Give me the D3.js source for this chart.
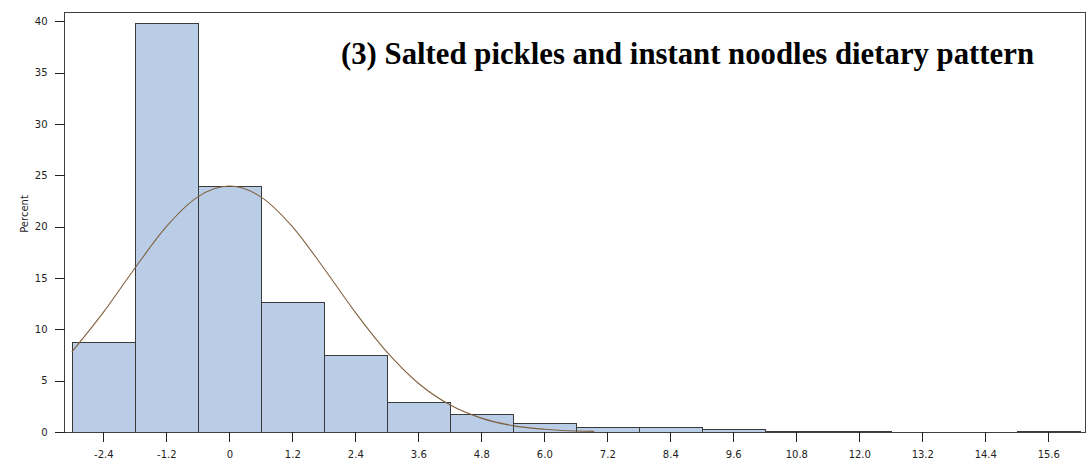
<!DOCTYPE html>
<html>
<head>
<meta charset="utf-8">
<script src="https://cdn.jsdelivr.net/npm/d3@7"></script>
<style>
  body { margin: 0; background: #fff; }
  svg { display: block; }
  .bar { fill: #b9cde6; stroke: #3a3a3a; stroke-width: 1; shape-rendering: crispEdges; }
  .curve { fill: none; stroke: #80613f; stroke-width: 1.1; }
  .frame { fill: none; stroke: #404040; stroke-width: 1; shape-rendering: crispEdges; }
  .axis text { font-family: "DejaVu Sans", sans-serif; font-size: 10px; fill: #222; }
  .axis line { stroke: #222; shape-rendering: crispEdges; }
  .axis path { display: none; }
</style>
</head>
<body>
<svg width="1088" height="465"></svg>
<script>
// histogram bins (midpoints) and percent of observations
const binMids = [-2.4, -1.2, 0, 1.2, 2.4, 3.6, 4.8, 6.0, 7.2, 8.4, 9.6, 10.8, 12.0, 13.2, 14.4, 15.6];
const percents = [8.8, 39.8, 24.0, 12.7, 7.45, 2.95, 1.8, 0.85, 0.5, 0.5, 0.32, 0.09, 0.09, 0, 0, 0.09];
const binWidth = 1.2;

// fitted normal curve
const curveX = [-3.0, -2.4, -1.8, -1.2, -0.6, 0, 0.6, 1.2, 1.8, 2.4, 3.0, 3.6, 4.2, 4.8, 5.4, 6.0, 6.6, 6.95];
const curveY = [7.8, 11.65, 15.95, 20.0, 22.9, 23.95, 22.9, 20.0, 15.95, 11.65, 7.8, 4.75, 2.65, 1.35, 0.62, 0.27, 0.1, 0.06];

const xTicks = [-2.4, -1.2, 0, 1.2, 2.4, 3.6, 4.8, 6.0, 7.2, 8.4, 9.6, 10.8, 12.0, 13.2, 14.4, 15.6];
const xTickLabels = ["-2.4", "-1.2", "0", "1.2", "2.4", "3.6", "4.8", "6.0", "7.2", "8.4", "9.6", "10.8", "12.0", "13.2", "14.4", "15.6"];
const yTicks = [0, 5, 10, 15, 20, 25, 30, 35, 40];

const titleText = "(3) Salted pickles and instant noodles dietary pattern";
const yLabel = "Percent";

const svg = d3.select("svg");

const x = d3.scaleLinear()
    .domain([-3.14, 16.3])
    .range([64.5, 1085]);

const y = d3.scaleLinear()
    .domain([0, 40.9])
    .range([432, 12]);

// bars
const bins = binMids.map((m, i) => ({ mid: m, pct: percents[i] })).filter((d) => d.pct > 0);

svg.selectAll(".bar")
    .data(bins)
    .enter().append("rect")
    .attr("class", "bar")
    .attr("x", (d) => Math.round(x(d.mid - binWidth / 2)) + 0.5)
    .attr("y", (d) => Math.round(y(d.pct)) + 0.5)
    .attr("width", (d) => Math.round(x(d.mid + binWidth / 2)) - Math.round(x(d.mid - binWidth / 2)))
    .attr("height", (d) => Math.max(0, Math.round(y(0)) - Math.round(y(d.pct))));

// normal curve
const line = d3.line()
    .x((d) => x(d[0]))
    .y((d) => y(d[1]))
    .curve(d3.curveMonotoneX);

svg.append("path")
    .attr("class", "curve")
    .attr("d", line(curveX.map((v, i) => [v, curveY[i]])));

// frame
svg.append("rect")
    .attr("class", "frame")
    .attr("x", 64.5)
    .attr("y", 12.5)
    .attr("width", 1085 - 64.5)
    .attr("height", 432 - 12.5);

// axes
svg.append("g")
    .attr("class", "axis")
    .attr("transform", "translate(0,432)")
    .call(d3.axisBottom(x)
        .tickValues(xTicks)
        .tickFormat((d, i) => xTickLabels[i])
        .tickSize(10)
        .tickPadding(9));

svg.append("g")
    .attr("class", "axis")
    .attr("transform", "translate(64.5,0)")
    .call(d3.axisLeft(y)
        .tickValues(yTicks)
        .tickFormat(d3.format("d"))
        .tickSize(10)
        .tickPadding(7));

svg.append("text")
    .attr("transform", "translate(28,214) rotate(-90)")
    .attr("text-anchor", "middle")
    .style("font-family", "'DejaVu Sans', sans-serif")
    .style("font-size", "10px")
    .style("fill", "#222")
    .text(yLabel);

// title
svg.append("text")
    .attr("x", 341)
    .attr("y", 64)
    .attr("textLength", 693)
    .attr("lengthAdjust", "spacingAndGlyphs")
    .style("font-family", "'Liberation Serif', 'Times New Roman', Times, serif")
    .style("font-weight", "bold")
    .style("font-size", "31px")
    .style("fill", "#000")
    .text(titleText);
</script>
</body>
</html>
